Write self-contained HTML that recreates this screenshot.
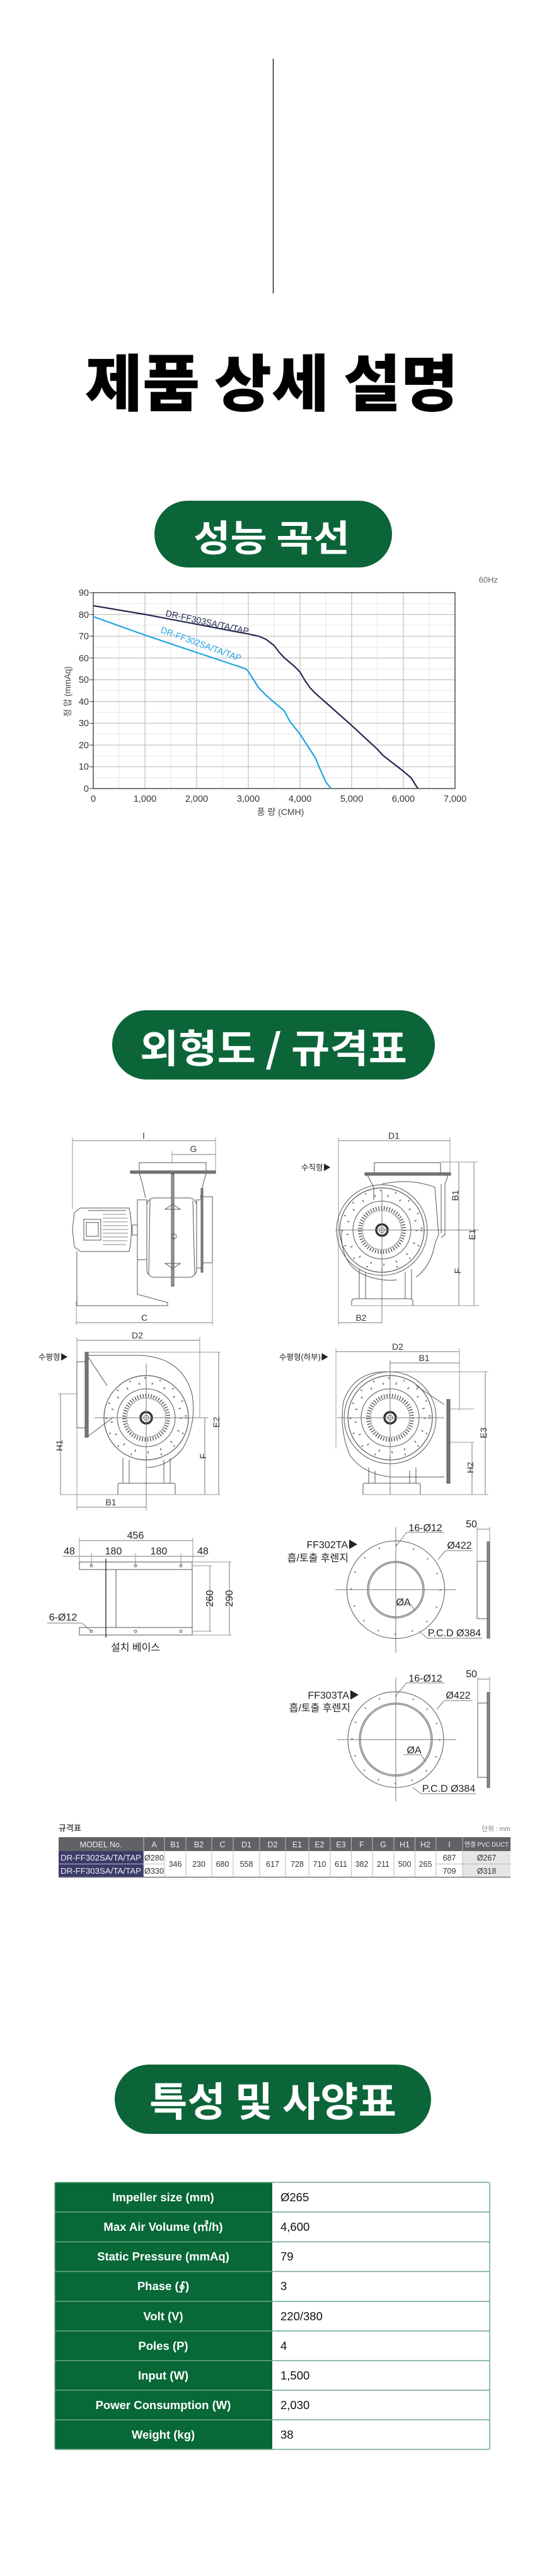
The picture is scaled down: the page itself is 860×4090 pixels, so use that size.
<!DOCTYPE html>
<html><head><meta charset="utf-8">
<style>
html,body{margin:0;padding:0;background:#fff;}
svg{display:block;}
.k{font-family:"Liberation Sans","Noto Sans CJK KR",sans-serif;}
</style></head>
<body>
<svg width="860" height="4090" viewBox="0 0 860 4090" xmlns="http://www.w3.org/2000/svg" class="k">
<defs>
<g id="fan">
  <circle r="67" fill="none" stroke="#555" stroke-width="1.2"/>
  <circle r="63" fill="none" stroke="#666" stroke-width="3" stroke-dasharray="1.6 22.9"/>
  <circle r="55" fill="none" stroke="#666" stroke-width="3.5" stroke-dasharray="1.6 19"/>
  <circle r="46" fill="none" stroke="#555" stroke-width="1"/>
  <circle r="35" fill="none" stroke="#444" stroke-width="6" stroke-dasharray="1.3 3"/>
  <circle r="31" fill="none" stroke="#777" stroke-width="0.8"/>
  <circle r="9" fill="none" stroke="#333" stroke-width="3.5"/>
  <circle r="4" fill="none" stroke="#555" stroke-width="1"/>
</g>
</defs>

<!-- top line and title -->
<line x1="433.5" y1="93" x2="433.5" y2="466" stroke="#000" stroke-width="1.2"/>
<text x="431" y="602" font-family="'Noto Sans CJK KR',sans-serif" font-weight="900" font-size="98" dominant-baseline="central" text-anchor="middle" textLength="592" lengthAdjust="spacingAndGlyphs">제품 상세 설명</text>

<!-- pill 1 -->
<rect x="245" y="795" width="377" height="106" rx="53" fill="#0b6538"/>
<text x="431" y="850" fill="#fff" font-family="'Noto Sans CJK KR',sans-serif" font-weight="700" font-size="58" dominant-baseline="central" text-anchor="middle" textLength="248" lengthAdjust="spacingAndGlyphs">성능 곡선</text>

<!-- chart -->
<text x="790" y="925" font-size="13" fill="#666" text-anchor="end">60Hz</text>
<g stroke="#e6e6e6" stroke-width="1">
<line x1="189" y1="941" x2="189" y2="1252"/><line x1="271" y1="941" x2="271" y2="1252"/><line x1="353" y1="941" x2="353" y2="1252"/><line x1="435" y1="941" x2="435" y2="1252"/><line x1="517" y1="941" x2="517" y2="1252"/><line x1="599" y1="941" x2="599" y2="1252"/><line x1="681" y1="941" x2="681" y2="1252"/>
<line x1="148" y1="958.3" x2="722" y2="958.3"/><line x1="148" y1="992.8" x2="722" y2="992.8"/><line x1="148" y1="1027.4" x2="722" y2="1027.4"/><line x1="148" y1="1062" x2="722" y2="1062"/><line x1="148" y1="1096.5" x2="722" y2="1096.5"/><line x1="148" y1="1131" x2="722" y2="1131"/><line x1="148" y1="1165.6" x2="722" y2="1165.6"/><line x1="148" y1="1200.2" x2="722" y2="1200.2"/><line x1="148" y1="1234.7" x2="722" y2="1234.7"/>
</g>
<g stroke="#c4c4c4" stroke-width="1.3">
<line x1="230" y1="941" x2="230" y2="1252"/><line x1="312" y1="941" x2="312" y2="1252"/><line x1="394" y1="941" x2="394" y2="1252"/><line x1="476" y1="941" x2="476" y2="1252"/><line x1="558" y1="941" x2="558" y2="1252"/><line x1="640" y1="941" x2="640" y2="1252"/>
<line x1="148" y1="975.6" x2="722" y2="975.6"/><line x1="148" y1="1010.1" x2="722" y2="1010.1"/><line x1="148" y1="1044.7" x2="722" y2="1044.7"/><line x1="148" y1="1079.3" x2="722" y2="1079.3"/><line x1="148" y1="1113.8" x2="722" y2="1113.8"/><line x1="148" y1="1148.4" x2="722" y2="1148.4"/><line x1="148" y1="1183" x2="722" y2="1183"/><line x1="148" y1="1217.5" x2="722" y2="1217.5"/>
</g>
<rect x="148" y="941" width="574" height="311" fill="none" stroke="#333" stroke-width="1.3"/>
<g stroke="#333" stroke-width="1"><line x1="142" y1="941" x2="148" y2="941"/><line x1="142" y1="975.6" x2="148" y2="975.6"/><line x1="142" y1="1010.1" x2="148" y2="1010.1"/><line x1="142" y1="1044.7" x2="148" y2="1044.7"/><line x1="142" y1="1079.3" x2="148" y2="1079.3"/><line x1="142" y1="1113.8" x2="148" y2="1113.8"/><line x1="142" y1="1148.4" x2="148" y2="1148.4"/><line x1="142" y1="1183" x2="148" y2="1183"/><line x1="142" y1="1217.5" x2="148" y2="1217.5"/><line x1="142" y1="1252" x2="148" y2="1252"/></g>
<g font-size="14.5" fill="#333" text-anchor="end">
<text x="141" y="946">90</text><text x="141" y="981">80</text><text x="141" y="1015">70</text><text x="141" y="1050">60</text><text x="141" y="1084">50</text><text x="141" y="1119">40</text><text x="141" y="1153">30</text><text x="141" y="1188">20</text><text x="141" y="1222">10</text><text x="141" y="1257">0</text>
</g>
<g font-size="14.5" fill="#333" text-anchor="middle">
<text x="148" y="1273">0</text><text x="230" y="1273">1,000</text><text x="312" y="1273">2,000</text><text x="394" y="1273">3,000</text><text x="476" y="1273">4,000</text><text x="558" y="1273">5,000</text><text x="640" y="1273">6,000</text><text x="722" y="1273">7,000</text>
</g>
<text x="445" y="1294" font-size="14" fill="#444" text-anchor="middle">풍 량 (CMH)</text>
<text transform="translate(112,1098) rotate(-90)" font-size="13.5" fill="#444" text-anchor="middle">정 압 (mmAq)</text>
<polyline fill="none" stroke="#232850" stroke-width="2.2" stroke-linejoin="round" points="148,961.7 230,975.5 312,991.1 394,1006.6 410.4,1010.1 422,1015 435,1025 443.2,1036 451.4,1044.6 467.8,1058.5 476,1067 484.2,1081 492,1092 500.6,1101 517,1115.5 558,1151.8 599,1189.8 607.2,1199 620,1209 640,1224.4 652.3,1235 663,1252"/>
<polyline fill="none" stroke="#1fa3e0" stroke-width="2.2" stroke-linejoin="round" points="148,979 230,1008.4 312,1036 389.9,1061.9 394,1066 410.4,1092 422,1104 435,1115 451.4,1129 459.6,1144.9 476,1165.6 500.6,1203.6 504.7,1214 517,1241.6 525.2,1252"/>
<text transform="translate(262,978) rotate(12.5)" font-size="14" fill="#232850">DR-FF303SA/TA/TAP</text>
<text transform="translate(254,1004) rotate(20)" font-size="14" fill="#1fa3e0">DR-FF302SA/TA/TAP</text>

<!-- pill 2 -->
<rect x="178" y="1604" width="512" height="110" rx="55" fill="#0b6538"/>
<text x="434" y="1660" fill="#fff" font-family="'Noto Sans CJK KR',sans-serif" font-weight="700" font-size="62" dominant-baseline="central" text-anchor="middle" textLength="424" lengthAdjust="spacingAndGlyphs">외형도 / 규격표</text>

<!-- ===== Drawings ===== -->
<g fill="none" stroke="#555" stroke-width="1" font-size="14" >
<!-- side view -->
<line x1="115" y1="1811" x2="342" y2="1811" stroke="#777"/>
<line x1="115" y1="1806" x2="115" y2="1920" stroke="#999"/>
<line x1="342" y1="1806" x2="342" y2="1864" stroke="#999"/>
<line x1="273" y1="1833" x2="342" y2="1833" stroke="#777"/>
<line x1="273" y1="1828" x2="273" y2="1846" stroke="#999"/>
<rect x="221" y="1846" width="106" height="13"/>
<rect x="207" y="1859" width="135" height="4" fill="#777"/>
<path d="M221,1863 L226,1880 L231,1902 M327,1863 L321,1885 L318,1902"/>
<rect x="233" y="1902" width="79" height="126" rx="12"/>
<path d="M238,1905 L236,2024 M306,1906 L309,2024"/>
<rect x="272" y="1864" width="4" height="178" fill="#999"/>
<path d="M262,1920 L274,1912 L286,1920 Z M262,2006 L274,2014 L286,2006 Z"/>
<circle cx="276" cy="1963" r="4"/>
<rect x="319" y="1887" width="3" height="133" fill="#888"/>
<rect x="322" y="1900" width="15" height="105"/>
<rect x="312" y="1905" width="7" height="108"/>
<rect x="218" y="1905" width="15" height="95"/>
<rect x="210" y="1945" width="8" height="16"/>
<path d="M128,1918 L205,1918 Q212,1952 205,1987 L128,1987 L118,1980 L115,1952 L118,1925 Z"/>
<rect x="133" y="1936" width="27" height="33"/>
<rect x="137" y="1941" width="19" height="22"/>
<path d="M163,1928 H200 M163,1934 H202 M163,1940 H203 M163,1946 H203 M163,1952 H203 M163,1958 H203 M163,1964 H203 M163,1970 H202 M163,1976 H200" stroke="#888"/>
<line x1="140" y1="1922" x2="200" y2="1922"/>
<path d="M122,1987 V2073 H266 L266,2068 L218,2055 V2000"/>
<line x1="121" y1="2066" x2="121" y2="2104" stroke="#999"/>
<line x1="337" y1="2005" x2="337" y2="2104" stroke="#999"/>
<line x1="121" y1="2100" x2="337" y2="2100" stroke="#777"/>

<!-- front vertical view -->
<line x1="537" y1="1811" x2="714" y2="1811" stroke="#777"/>
<line x1="537" y1="1806" x2="537" y2="2104" stroke="#999"/>
<line x1="714" y1="1806" x2="714" y2="1862" stroke="#999"/>
<rect x="594" y="1846" width="105" height="16"/>
<rect x="579" y="1862" width="136" height="4" fill="#777"/>
<path d="M583,1866 L593,1885 L593,1905 M711,1866 L706,1880 L706,1960 L700,1965 M700,1880 L700,1958"/>
<path d="M606,1880 Q650,1870 690,1885 L696,1960 L690,1975 Q684,2010 660,2028"/>
<circle cx="606" cy="1953" r="72"/>
<path d="M542,1955 Q540,2010 580,2025 Q606,2035 630,2032"/>
<use href="#fan" x="606" y="1953"/>
<line x1="532" y1="1953" x2="760" y2="1953" stroke="#777"/>
<line x1="606" y1="1890" x2="606" y2="2100" stroke="#777"/>
<path d="M570,2015 V2062 M580,2020 V2062 M643,2020 V2062 M653,2015 V2062"/>
<path d="M563,2062 H650 Q655,2062 655,2067 V2073 H558 V2067 Q558,2062 563,2062 Z"/>
<line x1="558" y1="2073" x2="760" y2="2073" stroke="#999"/>
<line x1="700" y1="1845" x2="758" y2="1845" stroke="#999"/>
<line x1="752" y1="1845" x2="752" y2="2073" stroke="#777"/>
<line x1="728" y1="1845" x2="728" y2="2073" stroke="#777"/>
<line x1="537" y1="2100" x2="606" y2="2100" stroke="#777"/>

<!-- horizontal view left -->
<line x1="122" y1="2128" x2="317" y2="2128" stroke="#777"/>
<line x1="122" y1="2123" x2="122" y2="2398" stroke="#999"/>
<line x1="317" y1="2123" x2="317" y2="2250" stroke="#999"/>
<line x1="140" y1="2147" x2="350" y2="2147" stroke="#999"/>
<rect x="135" y="2147" width="5" height="135" fill="#777"/>
<rect x="122" y="2162" width="13" height="105"/>
<path d="M140,2152 H222 Q290,2155 305,2215 Q312,2260 290,2300 Q265,2330 232,2330 M140,2280 L180,2250 M140,2155 L170,2200"/>
<use href="#fan" x="232" y="2251"/>
<line x1="150" y1="2251" x2="330" y2="2251" stroke="#777"/>
<line x1="232" y1="2165" x2="232" y2="2398" stroke="#777"/>
<path d="M195,2315 V2355 M205,2318 V2355 M260,2318 V2355 M270,2315 V2355"/>
<path d="M190,2355 H275 Q278,2355 278,2358 V2373 H187 V2358 Q187,2355 190,2355 Z"/>
<line x1="96" y1="2373" x2="350" y2="2373" stroke="#999"/>
<line x1="92" y1="2213" x2="122" y2="2213" stroke="#999"/>
<line x1="96" y1="2213" x2="96" y2="2373" stroke="#777"/>
<line x1="347" y1="2147" x2="347" y2="2373" stroke="#777"/>
<line x1="325" y1="2251" x2="325" y2="2373" stroke="#777"/>
<line x1="122" y1="2393" x2="232" y2="2393" stroke="#777"/>

<!-- horizontal lower view -->
<line x1="533" y1="2146" x2="729" y2="2146" stroke="#777"/>
<line x1="533" y1="2141" x2="533" y2="2300" stroke="#999"/>
<line x1="729" y1="2141" x2="729" y2="2240" stroke="#999"/>
<line x1="619" y1="2164" x2="729" y2="2164" stroke="#777"/>
<line x1="605" y1="2178" x2="775" y2="2178" stroke="#999"/>
<path d="M605,2178 Q560,2182 545,2225 Q538,2270 555,2310 Q575,2340 620,2345 L705,2345 M660,2200 L705,2230"/>
<circle cx="619" cy="2251" r="73"/>
<use href="#fan" x="619" y="2251"/>
<line x1="535" y1="2251" x2="705" y2="2251" stroke="#777"/>
<line x1="619" y1="2160" x2="619" y2="2373" stroke="#777"/>
<rect x="709" y="2222" width="5" height="133" fill="#777"/>
<line x1="714" y1="2237" x2="752" y2="2237" stroke="#999"/>
<line x1="714" y1="2290" x2="752" y2="2290" stroke="#999"/>
<path d="M585,2330 V2355 M595,2335 V2355 M650,2335 V2355 M660,2330 V2355"/>
<path d="M579,2355 H664 Q667,2355 667,2358 V2373 H576 V2358 Q576,2355 579,2355 Z"/>
<line x1="576" y1="2373" x2="775" y2="2373" stroke="#999"/>
<line x1="770" y1="2178" x2="770" y2="2373" stroke="#777"/>
<line x1="749" y1="2290" x2="749" y2="2373" stroke="#777"/>

<!-- base -->
<line x1="126" y1="2446" x2="306" y2="2446" stroke="#777"/>
<line x1="100" y1="2471" x2="325" y2="2471" stroke="#777"/>
<path d="M126,2441 V2480 M306,2441 V2480 M145,2466 V2486 M215,2466 V2486 M287,2466 V2486" stroke="#999"/>
<rect x="126" y="2480" width="179" height="12"/>
<rect x="126" y="2584" width="179" height="12"/>
<rect x="168" y="2492" width="16" height="92"/>
<line x1="168" y1="2475" x2="168" y2="2600" stroke="#333" stroke-width="1.4"/>
<line x1="305" y1="2480" x2="305" y2="2596"/>
<circle cx="145" cy="2486" r="2"/><circle cx="215" cy="2486" r="2"/><circle cx="287" cy="2486" r="2"/>
<circle cx="145" cy="2590" r="2"/><circle cx="215" cy="2590" r="2"/><circle cx="287" cy="2590" r="2"/>
<line x1="305" y1="2486" x2="336" y2="2486" stroke="#999"/>
<line x1="305" y1="2590" x2="336" y2="2590" stroke="#999"/>
<line x1="333" y1="2486" x2="333" y2="2590" stroke="#777"/>
<line x1="305" y1="2480" x2="367" y2="2480" stroke="#999"/>
<line x1="305" y1="2596" x2="367" y2="2596" stroke="#999"/>
<line x1="364" y1="2480" x2="364" y2="2596" stroke="#777"/>
<path d="M75,2577 H130 L145,2590" stroke="#777"/>

<!-- flange 302 -->
<circle cx="628" cy="2524" r="77.5"/>
<circle cx="628" cy="2524" r="70.5" stroke="#777" stroke-width="3" stroke-dasharray="1.6 26.1"/>
<circle cx="628" cy="2524" r="45"/>
<circle cx="628" cy="2524" r="43"/>
<line x1="532" y1="2524" x2="723" y2="2524" stroke="#777"/>
<line x1="628" y1="2425" x2="628" y2="2624" stroke="#777"/>
<rect x="773" y="2448" width="4" height="153" fill="#888"/>
<rect x="757" y="2479" width="16" height="91"/>
<line x1="757" y1="2428" x2="777" y2="2428" stroke="#777"/>
<path d="M757,2424 V2479 M777,2424 V2448" stroke="#999"/>
<path d="M645,2433 H705 M645,2433 L630,2453 M707,2462 H750 M707,2462 L695,2476 M678,2601 H765 L678,2601 L665,2590 M628,2548 H652 L658,2557" stroke="#777"/>

<!-- flange 303 -->
<circle cx="628" cy="2762" r="76"/>
<circle cx="628" cy="2762" r="69.5" stroke="#777" stroke-width="3" stroke-dasharray="1.6 25.7"/>
<circle cx="628" cy="2762" r="58"/>
<circle cx="628" cy="2762" r="56"/>
<line x1="535" y1="2762" x2="724" y2="2762" stroke="#777"/>
<line x1="628" y1="2664" x2="628" y2="2860" stroke="#777"/>
<rect x="773" y="2687" width="4" height="151" fill="#888"/>
<rect x="758" y="2704" width="15" height="118"/>
<line x1="758" y1="2666" x2="777" y2="2666" stroke="#777"/>
<path d="M758,2662 V2704 M777,2662 V2687" stroke="#999"/>
<path d="M645,2672 H705 M645,2672 L630,2690 M705,2700 H750 M705,2700 L693,2714 M668,2848 H755 L668,2848 L655,2838 M640,2786 H668 L675,2797" stroke="#777"/>
</g>

<!-- drawing labels -->
<g font-size="14" fill="#333" font-family="'Liberation Sans',sans-serif" text-anchor="middle">
<text x="228" y="1808">I</text>
<text x="307" y="1829">G</text>
<text x="229" y="2097">C</text>
<text x="625" y="1808">D1</text>
<text x="573" y="2097">B2</text>
<text x="218" y="2125">D2</text>
<text x="176" y="2390">B1</text>
<text x="631" y="2143">D2</text>
<text x="673" y="2161">B1</text>
<text transform="translate(727,1898) rotate(-90)">B1</text>
<text transform="translate(754,1960) rotate(-90)">E1</text>
<text transform="translate(731,2018) rotate(-90)">F</text>
<text transform="translate(348,2258) rotate(-90)">E2</text>
<text transform="translate(327,2312) rotate(-90)">F</text>
<text transform="translate(99,2295) rotate(-90)">H1</text>
<text transform="translate(772,2275) rotate(-90)">E3</text>
<text transform="translate(751,2330) rotate(-90)">H2</text>
</g>
<g font-size="12.5" fill="#222" font-family="'Liberation Sans','Noto Sans CJK KR',sans-serif">
<text x="478" y="1858">수직형▶</text>
<text x="61" y="2159">수평형▶</text>
<text x="443" y="2159">수평형(하부)▶</text>
</g>
<g font-size="16" fill="#222" font-family="'Liberation Sans','Noto Sans CJK KR',sans-serif" text-anchor="middle">
<text x="215" y="2443">456</text>
<text x="110" y="2468">48</text><text x="180" y="2468">180</text><text x="252" y="2468">180</text><text x="322" y="2468">48</text>
<text transform="translate(338,2538) rotate(-90)">260</text>
<text transform="translate(369,2538) rotate(-90)">290</text>
<text x="100" y="2573">6-Ø12</text>
<text x="215" y="2621">설치 베이스</text>
<text x="675" y="2431">16-Ø12</text>
<text x="748" y="2425">50</text>
<text x="729" y="2459">Ø422</text>
<text x="640" y="2549">ØA</text>
<text x="721" y="2598">P.C.D Ø384</text>
<text x="675" y="2670">16-Ø12</text>
<text x="748" y="2663">50</text>
<text x="727" y="2697">Ø422</text>
<text x="657" y="2784">ØA</text>
<text x="712" y="2845">P.C.D Ø384</text>
</g>
<g font-size="16" fill="#222" font-family="'Liberation Sans','Noto Sans CJK KR',sans-serif" text-anchor="end">
<text x="568" y="2458">FF302TA▶</text>
<text x="553" y="2479">흡/토출 후렌지</text>
<text x="570" y="2697">FF303TA▶</text>
<text x="556" y="2717">흡/토출 후렌지</text>
</g>

<!-- 규격표 -->
<text x="93" y="2907" font-size="13" font-weight="700" fill="#555" font-family="'Liberation Sans','Noto Sans CJK KR',sans-serif">규격표</text>
<text x="810" y="2907" font-size="10.5" fill="#777" text-anchor="end" font-family="'Liberation Sans','Noto Sans CJK KR',sans-serif">단위 : mm</text>
<rect x="93" y="2917" width="717" height="22" fill="#616266"/>
<rect x="93" y="2939" width="135" height="41" fill="#3b3b6b"/>
<rect x="228" y="2939" width="506" height="41" fill="#fff"/>
<rect x="734" y="2939" width="76" height="41" fill="#e6e6e6"/>
<g stroke="#bbb" stroke-width="1">
<line x1="228" y1="2917" x2="228" y2="2980"/><line x1="261" y1="2917" x2="261" y2="2980"/><line x1="295" y1="2917" x2="295" y2="2980"/><line x1="336" y1="2917" x2="336" y2="2980"/><line x1="370" y1="2917" x2="370" y2="2980"/><line x1="412" y1="2917" x2="412" y2="2980"/><line x1="453" y1="2917" x2="453" y2="2980"/><line x1="490" y1="2917" x2="490" y2="2980"/><line x1="524" y1="2917" x2="524" y2="2980"/><line x1="557.5" y1="2917" x2="557.5" y2="2980"/><line x1="591" y1="2917" x2="591" y2="2980"/><line x1="625" y1="2917" x2="625" y2="2980"/><line x1="658.5" y1="2917" x2="658.5" y2="2980"/><line x1="692" y1="2917" x2="692" y2="2980"/><line x1="734" y1="2917" x2="734" y2="2980"/>
<line x1="93" y1="2959.5" x2="261" y2="2959.5"/><line x1="692" y1="2959.5" x2="810" y2="2959.5"/>
</g>
<line x1="93" y1="2980.5" x2="810" y2="2980.5" stroke="#777" stroke-width="1.5"/>
<g font-size="12.5" fill="#eee" text-anchor="middle">
<text x="160" y="2933">MODEL No.</text><text x="244.5" y="2933">A</text><text x="278" y="2933">B1</text><text x="315.5" y="2933">B2</text><text x="353" y="2933">C</text><text x="391" y="2933">D1</text><text x="432.5" y="2933">D2</text><text x="471.5" y="2933">E1</text><text x="507" y="2933">E2</text><text x="541" y="2933">E3</text><text x="574" y="2933">F</text><text x="608" y="2933">G</text><text x="642" y="2933">H1</text><text x="675" y="2933">H2</text><text x="713" y="2933">I</text>
<text x="772" y="2932" font-size="10" textLength="70" lengthAdjust="spacingAndGlyphs" font-family="'Liberation Sans','Noto Sans CJK KR',sans-serif">연결 PVC DUCT</text>
<text x="160" y="2954" textLength="128" lengthAdjust="spacingAndGlyphs">DR-FF302SA/TA/TAP</text>
<text x="160" y="2975" textLength="128" lengthAdjust="spacingAndGlyphs">DR-FF303SA/TA/TAP</text>
</g>
<g font-size="12.5" fill="#333" text-anchor="middle">
<text x="244.5" y="2954" textLength="31" lengthAdjust="spacingAndGlyphs">Ø280</text><text x="244.5" y="2975" textLength="31" lengthAdjust="spacingAndGlyphs">Ø330</text>
<text x="278" y="2964">346</text><text x="315.5" y="2964">230</text><text x="353" y="2964">680</text><text x="391" y="2964">558</text><text x="432.5" y="2964">617</text><text x="471.5" y="2964">728</text><text x="507" y="2964">710</text><text x="541" y="2964">611</text><text x="574" y="2964">382</text><text x="608" y="2964">211</text><text x="642" y="2964">500</text><text x="675" y="2964">265</text>
<text x="713" y="2954">687</text><text x="713" y="2975">709</text>
<text x="772" y="2954">Ø267</text><text x="772" y="2975">Ø318</text>
</g>

<!-- pill 3 -->
<rect x="182" y="3278" width="502" height="110" rx="55" fill="#0b6538"/>
<text x="433" y="3333" fill="#fff" font-family="'Noto Sans CJK KR',sans-serif" font-weight="700" font-size="64" dominant-baseline="central" text-anchor="middle" textLength="392" lengthAdjust="spacingAndGlyphs">특성 및 사양표</text>

<!-- spec table -->
<rect x="87" y="3465" width="345" height="424" fill="#086837"/>
<rect x="432" y="3465" width="345" height="424" fill="#fff"/>
<g stroke="#6aa886" stroke-width="1.5" fill="none">
<rect x="87" y="3465" width="690" height="424" rx="2"/>
<line x1="87" y1="3512" x2="777" y2="3512"/><line x1="87" y1="3559.5" x2="777" y2="3559.5"/><line x1="87" y1="3606.5" x2="777" y2="3606.5"/><line x1="87" y1="3654" x2="777" y2="3654"/><line x1="87" y1="3701" x2="777" y2="3701"/><line x1="87" y1="3748" x2="777" y2="3748"/><line x1="87" y1="3795" x2="777" y2="3795"/><line x1="87" y1="3842" x2="777" y2="3842"/>
</g>
<g font-size="18.5" font-weight="700" fill="#fff" text-anchor="middle" font-family="'Liberation Sans','DejaVu Sans',sans-serif">
<text x="259" y="3495">Impeller size (mm)</text>
<text x="259" y="3542">Max Air Volume (㎥/h)</text>
<text x="259" y="3589">Static Pressure (mmAq)</text>
<text x="259" y="3636">Phase (∮)</text>
<text x="259" y="3684">Volt (V)</text>
<text x="259" y="3731">Poles (P)</text>
<text x="259" y="3778">Input (W)</text>
<text x="259" y="3825">Power Consumption (W)</text>
<text x="259" y="3872">Weight (kg)</text>
</g>
<g font-size="18.5" fill="#111" font-family="'Liberation Sans',sans-serif">
<text x="445" y="3495">Ø265</text>
<text x="445" y="3542">4,600</text>
<text x="445" y="3589">79</text>
<text x="445" y="3636">3</text>
<text x="445" y="3684">220/380</text>
<text x="445" y="3731">4</text>
<text x="445" y="3778">1,500</text>
<text x="445" y="3825">2,030</text>
<text x="445" y="3872">38</text>
</g>
</svg>
</body></html>
